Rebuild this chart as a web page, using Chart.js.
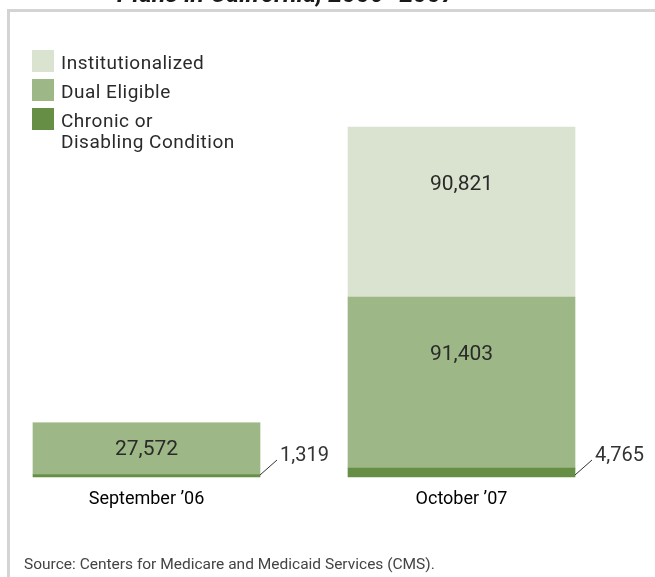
<!DOCTYPE html>
<html>
<head>
<meta charset="utf-8">
<script src="https://cdn.jsdelivr.net/npm/chart.js@4.4.1/dist/chart.umd.min.js"></script>
<style>
  html, body { margin: 0; padding: 0; background: #fff; }
  #wrap { width: 655px; height: 577px; position: relative; }
</style>
</head>
<body>
<div id="wrap"><canvas id="myChart" width="655" height="577"></canvas></div>
<script>
// data
const categories = ['September \u201906', 'October \u201907'];
const chronic = [1319, 4765];
const dual = [27572, 91403];
const institutionalized = [0, 90821];
const seriesNames = ['Chronic or\nDisabling Condition', 'Dual Eligible', 'Institutionalized'];
const seriesColors = ['#668f45', '#9db886', '#d9e3cf'];
const titleText = 'Plans in California, 2006\u20132007';
const sourceText = 'Source: Centers for Medicare and Medicaid Services (CMS).';

const totals = categories.map((c, i) => chronic[i] + dual[i] + institutionalized[i]);
const fontFamily = 'Roboto, "Liberation Sans", sans-serif';

let ctx = document.getElementById('myChart');

const datas = {
  labels: categories,
  datasets: [chronic, dual, institutionalized].map((vals, i) => ({
    label: seriesNames[i],
    data: vals,
    backgroundColor: seriesColors[i],
    borderWidth: 0,
    barThickness: 227,
    clip: false
  }))
};

// frame, title, legend and source
const decorations = {
  id: 'decorations',
  beforeDraw(chart) {
    const { ctx } = chart;
    ctx.save();
    ctx.fillStyle = '#fff';
    ctx.fillRect(0, 0, chart.width, chart.height);
    ctx.fillStyle = '#d4d4d4';
    ctx.fillRect(7, 9, chart.width - 7, 3);
    ctx.fillRect(7, 9, 3, chart.height - 9);
    ctx.restore();
  },
  afterDraw(chart) {
    const { ctx } = chart;
    ctx.save();
    ctx.fillStyle = '#1a1a1a';
    ctx.font = 'italic bold 25px ' + fontFamily;
    ctx.textAlign = 'center';
    ctx.textBaseline = 'alphabetic';
    ctx.fillText(titleText, 286, 2);

    // legend, top series first
    ctx.textAlign = 'left';
    ctx.font = '19px ' + fontFamily;
    ctx.letterSpacing = '0.5px';
    let y = 50;
    for (let i = seriesNames.length - 1; i >= 0; i--) {
      ctx.fillStyle = seriesColors[i];
      ctx.fillRect(32, y, 22, 22);
      ctx.fillStyle = '#2a2a2a';
      const lines = seriesNames[i].split('\n');
      lines.forEach((line, k) => ctx.fillText(line, 61, y + 19 + k * 21));
      y += 29;
    }
    ctx.letterSpacing = '0px';

    ctx.fillStyle = '#444';
    ctx.font = '15.5px ' + fontFamily;
    ctx.fillText(sourceText, 24, 569);
    ctx.restore();
  }
};

// value labels on the bars
const barLabels = {
  id: 'barLabels',
  afterDatasetsDraw(chart) {
    const { ctx } = chart;
    ctx.save();
    chart.data.datasets.forEach((ds, i) => {
      const meta = chart.getDatasetMeta(i);
      ds.data.forEach((v, j) => {
        if (!v) return;
        const bar = meta.data[j];
        const text = v.toLocaleString('en-US');
        if (i === 0) {
          const rx = bar.x + bar.width / 2;
          ctx.strokeStyle = '#333';
          ctx.lineWidth = 1;
          ctx.beginPath();
          ctx.moveTo(rx, bar.base - 2);
          ctx.lineTo(rx + 17, bar.base - 17);
          ctx.stroke();
          ctx.fillStyle = '#333';
          ctx.font = '20px ' + fontFamily;
          ctx.textAlign = 'left';
          ctx.textBaseline = 'middle';
          ctx.fillText(text, rx + 20, bar.base - 21);
        } else {
          const y = Math.min((bar.y + bar.base) / 2, bar.y + 56) + 1.5;
          ctx.fillStyle = '#2a2a2a';
          ctx.font = '21px ' + fontFamily;
          ctx.textAlign = 'center';
          ctx.textBaseline = 'middle';
          ctx.fillText(text, bar.x, y);
        }
      });
    });
    ctx.restore();
  }
};

const config = {
  type: 'bar',
  data: datas,
  options: {
    responsive: false,
    animation: false,
    events: [],
    layout: { padding: { top: 127, left: 146.5, right: 193.5, bottom: 0 } },
    plugins: {
      legend: { display: false },
      tooltip: { enabled: false }
    },
    scales: {
      x: {
        stacked: true,
        offset: false,
        grid: { display: false, drawTicks: false },
        border: { display: false },
        ticks: {
          color: '#000',
          font: { family: fontFamily, size: 18 },
          padding: 12,
          maxRotation: 0,
          autoSkip: false
        },
        afterFit(scale) { scale.height = 100; }
      },
      y: {
        stacked: true,
        display: false,
        min: 0,
        max: Math.max(...totals)
      }
    }
  },
  plugins: [decorations, barLabels]
};

const myChart = new Chart(ctx, config);
</script>
</body>
</html>
